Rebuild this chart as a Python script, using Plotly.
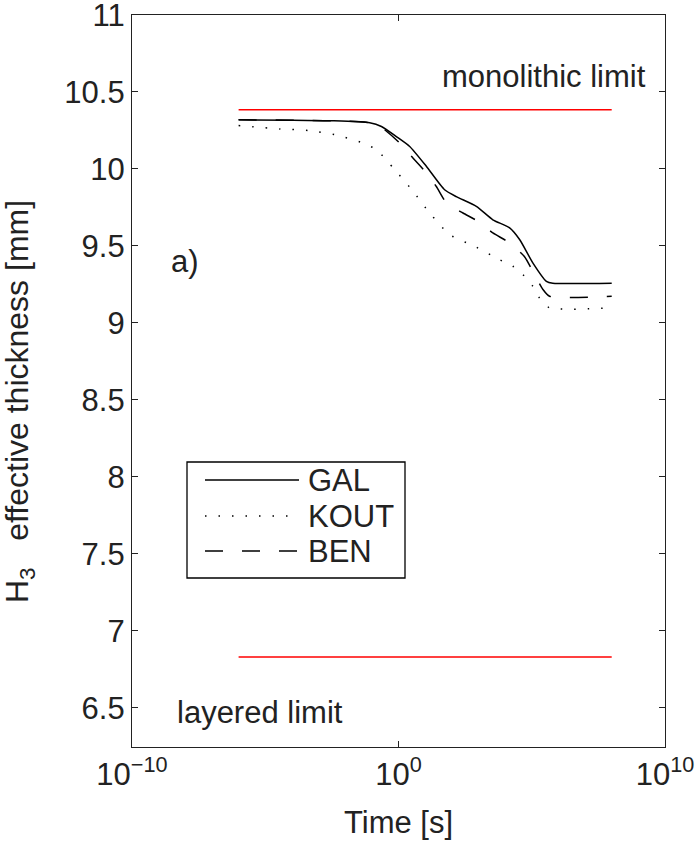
import numpy as np
import plotly.graph_objects as go

# ---- data (time given as log10 of seconds) ----
gal_logt = [-6, -4, -2.45, -1.08, -0.64, -0.08, 0.42, 1.05, 1.73, 2.17, 2.92, 3.54, 4.17, 4.55, 5.04, 5.55, 5.79, 8]
gal_h = [10.319, 10.317, 10.313, 10.30, 10.276, 10.21, 10.146, 10.016, 9.865, 9.82, 9.757, 9.67, 9.617, 9.54, 9.39, 9.27, 9.258, 9.258]

kout_logt = [-6, -4.45, -3.39, -2.33, -1.33, -0.83, -0.14, 0.55, 1.17, 1.92, 2.86, 3.8, 4.29, 4.67, 5.04, 5.3, 5.67, 8]
kout_h = [10.282, 10.26, 10.25, 10.22, 10.168, 10.125, 9.995, 9.854, 9.714, 9.573, 9.497, 9.41, 9.368, 9.314, 9.238, 9.16, 9.098, 9.098]

ben_logt = [-6, -2.45, -1.08, -0.64, 0.05, 0.55, 1.05, 1.42, 1.8, 2.42, 2.98, 3.54, 4.17, 4.73, 5.04, 5.42, 5.67, 8]
ben_h = [10.319, 10.313, 10.30, 10.27, 10.168, 10.07, 9.973, 9.886, 9.78, 9.714, 9.66, 9.584, 9.52, 9.43, 9.335, 9.217, 9.173, 9.173]

limit_logt = [-6, 8]
monolithic_h = [10.384, 10.384]
layered_h = [6.83, 6.83]

x_tickvals = [1e-10, 1e0, 1e10]
x_ticktext = ["10<sup>\u221210</sup>", "10<sup>0</sup>", "10<sup>10</sup>"]
y_tickvals = [6.5, 7, 7.5, 8, 8.5, 9, 9.5, 10, 10.5, 11]
y_ticktext = ["6.5", "7", "7.5", "8", "8.5", "9", "9.5", "10", "10.5", "11"]

series_names = ["GAL", "KOUT", "BEN"]

FONT = "Liberation Sans, Arial, Helvetica, sans-serif"
TXT = "#222222"
FS = 31

def tt(l):
    return 10 ** np.array(l, dtype=float)

dashes = {"GAL": "solid", "KOUT": "1.5px,12px", "BEN": "18px,19px"}

fig = go.Figure()
fig.add_trace(go.Scatter(x=tt(limit_logt), y=monolithic_h, mode="lines",
                         line=dict(color="#ff0000", width=1.5), showlegend=False))
fig.add_trace(go.Scatter(x=tt(limit_logt), y=layered_h, mode="lines",
                         line=dict(color="#ff0000", width=1.5), showlegend=False))
for name, lt, h in [("GAL", gal_logt, gal_h), ("KOUT", kout_logt, kout_h), ("BEN", ben_logt, ben_h)]:
    fig.add_trace(go.Scatter(x=tt(lt), y=h, mode="lines", name=name,
                             line=dict(color="black", width=1.5, dash=dashes[name],
                                       shape="spline", smoothing=0.6),
                             showlegend=False))

# plot area in px
L, R, T, B = 132, 665, 15, 747
W, H = 695, 843
pw, ph = R - L, B - T

def px2paper(x, y):
    return (x - L) / pw, (B - y) / ph

shapes = []
annotations = []
# legend box
x0, y0 = px2paper(187, 578)
x1, y1 = px2paper(405, 462)
shapes.append(dict(type="rect", xref="paper", yref="paper", x0=x0, y0=y0, x1=x1, y1=y1,
                   line=dict(color="black", width=1.3), fillcolor="white", layer="above"))
rows = [480, 516, 551]
for name, ry in zip(series_names, rows):
    a0, b0 = px2paper(205, ry)
    a1, _ = px2paper(299, ry)
    shapes.append(dict(type="line", xref="paper", yref="paper", x0=a0, y0=b0, x1=a1, y1=b0,
                       line=dict(color="black", width=1.3, dash=dashes[name]), layer="above"))
    tx, _ = px2paper(306, ry)
    annotations.append(dict(xref="paper", yref="paper", x=tx, y=b0, text=name, showarrow=False,
                            xanchor="left", yanchor="middle", font=dict(family=FONT, size=FS, color=TXT)))

annotations.append(dict(xref="x", yref="y", x=9.35, y=10.6, text="monolithic limit", showarrow=False,
                        xanchor="right", yanchor="middle", font=dict(family=FONT, size=FS, color=TXT)))
annotations.append(dict(xref="x", yref="y", x=-8.4, y=6.47, text="layered limit", showarrow=False,
                        xanchor="left", yanchor="middle", font=dict(family=FONT, size=FS, color=TXT)))
annotations.append(dict(xref="x", yref="y", x=-8.6, y=9.40, text="a)", showarrow=False,
                        xanchor="left", yanchor="middle", font=dict(family=FONT, size=FS, color=TXT)))
# y-axis title
tx, ty = px2paper(19, 402)
annotations.append(dict(xref="paper", yref="paper", x=tx, y=ty, textangle=-90,
                        text="H<sub>3</sub>   effective thickness [mm]", showarrow=False,
                        xanchor="center", yanchor="middle", font=dict(family=FONT, size=32, color=TXT)))
# x-axis title
tx, ty = px2paper(398, 822)
annotations.append(dict(xref="paper", yref="paper", x=tx, y=ty, text="Time [s]", showarrow=False,
                        xanchor="center", yanchor="middle", font=dict(family=FONT, size=FS, color=TXT)))

axis_common = dict(showline=True, linecolor="#222222", linewidth=1.3, mirror="allticks",
                   ticks="inside", ticklen=6, tickwidth=1.2, tickcolor="#222222",
                   showgrid=False, zeroline=False, automargin=False,
                   ticklabeloverflow="allow",
                   tickfont=dict(family=FONT, size=FS, color=TXT))

fig.update_layout(
    width=W, height=H,
    margin=dict(l=L, r=W - R, t=T, b=H - B),
    paper_bgcolor="white", plot_bgcolor="white",
    shapes=shapes, annotations=annotations,
    xaxis=dict(type="log", range=[-10, 10.0001], tickvals=x_tickvals, ticktext=x_ticktext,
               **axis_common),
    yaxis=dict(range=[6.245, 11.0001], tickvals=y_tickvals, ticktext=y_ticktext,
               **axis_common),
    showlegend=False,
)

fig.write_html("out.html")
